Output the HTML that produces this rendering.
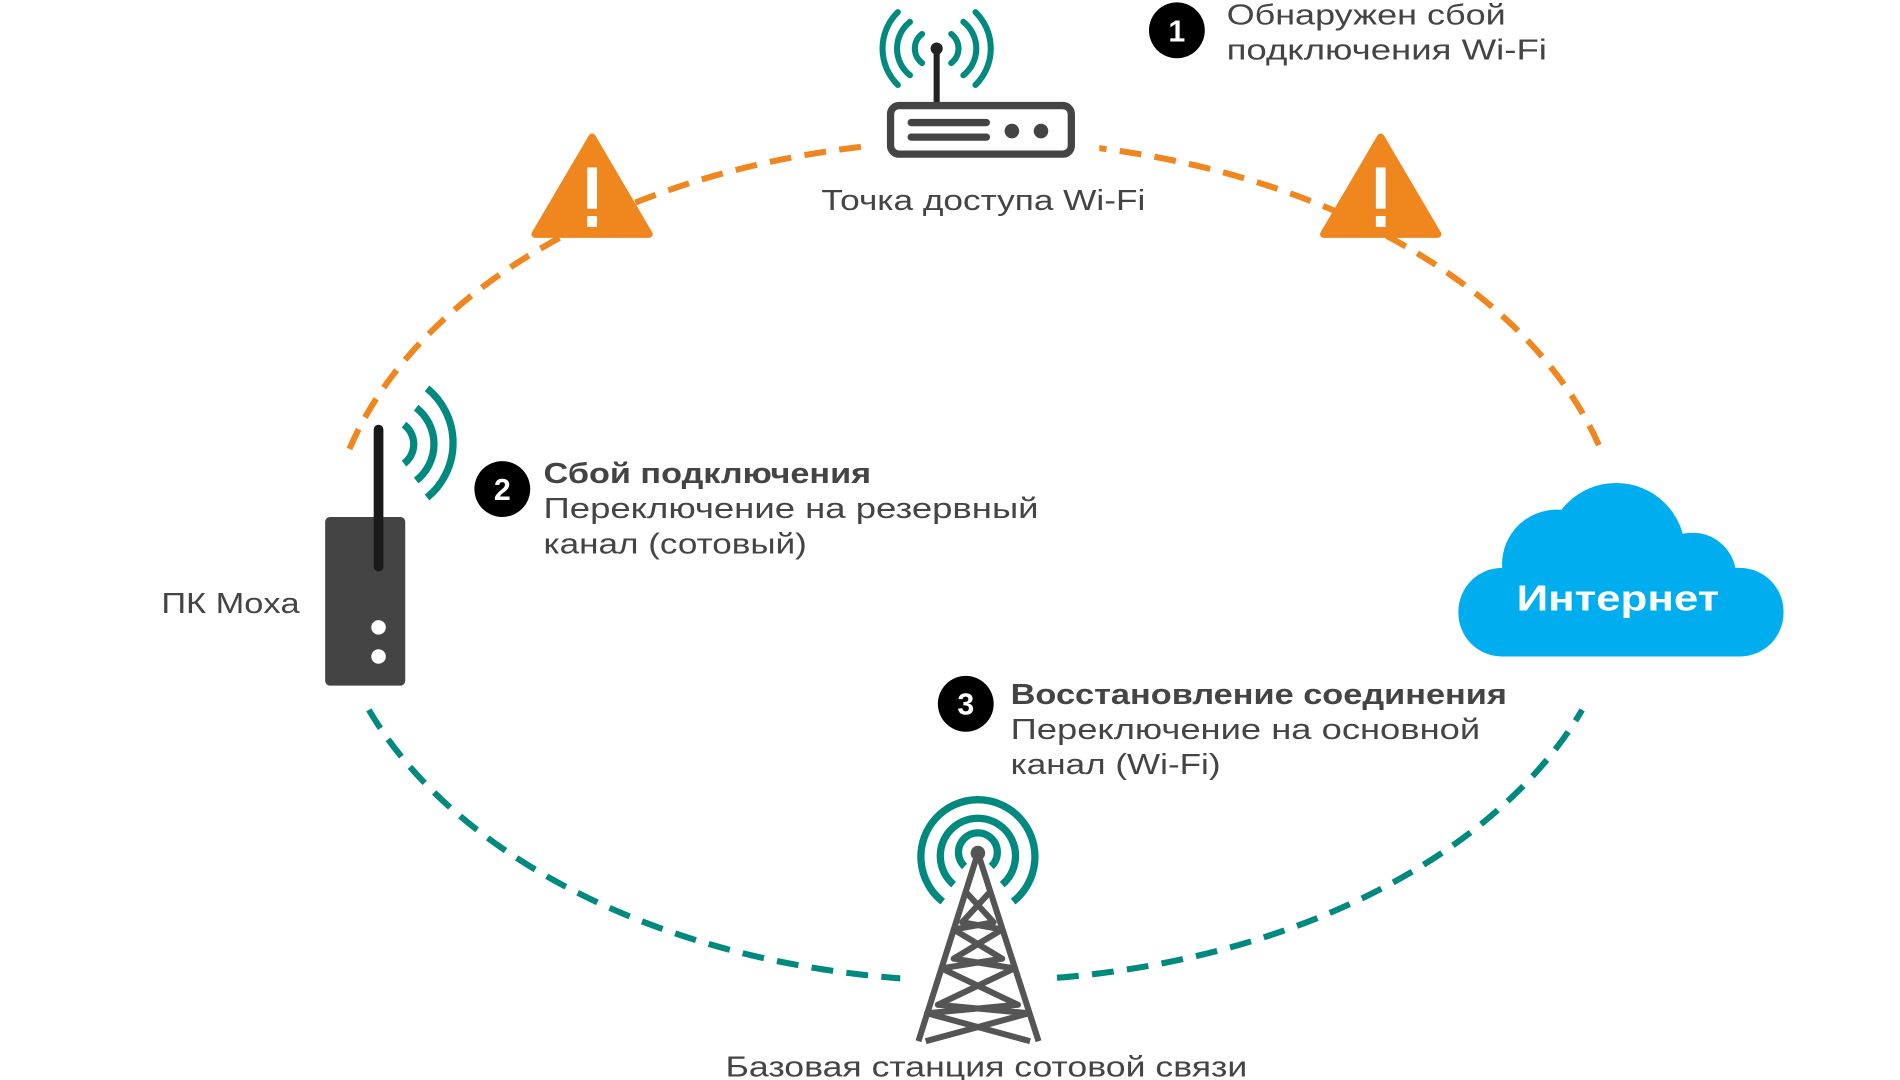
<!DOCTYPE html>
<html><head><meta charset="utf-8"><style>
html,body{margin:0;padding:0;background:#fff;width:1900px;height:1080px;overflow:hidden}
svg{display:block}
text{font-family:"Liberation Sans",sans-serif;fill:#444}
</style></head><body>
<svg width="1900" height="1080" viewBox="0 0 1566 890" preserveAspectRatio="none">
<path d="M288 370 A535 347 0 0 1 1320 372" fill="none" stroke="#F0861E" stroke-width="5" stroke-dasharray="18 11"/>
<path d="M304 585 A535 347 0 0 0 1304 585" fill="none" stroke="#00897F" stroke-width="5" stroke-dasharray="18 11"/>
<rect x="712" y="95" width="194" height="45" fill="#fff"/>
<rect x="742" y="785" width="124" height="50" fill="#fff"/>
<rect x="275" y="372" width="30" height="50" fill="#fff"/>

<g fill="none" stroke="#00897F" stroke-width="5" stroke-linecap="round">
<path d="M760 28 A15 15 0 0 0 760 52"/><path d="M784 28 A15 15 0 0 1 784 52"/>
<path d="M750 18 A28 28 0 0 0 750 62"/><path d="M794 18 A28 28 0 0 1 794 62"/>
<path d="M740 10 A42 42 0 0 0 740 70"/><path d="M804 10 A42 42 0 0 1 804 70"/>
</g>
<line x1="772" y1="40" x2="772" y2="88" stroke="#222" stroke-width="5"/>
<circle cx="772" cy="40" r="5" fill="#222"/>
<rect x="734" y="87" width="149" height="40" rx="7" fill="#fff" stroke="#444" stroke-width="6"/>
<rect x="748" y="98" width="68" height="6" rx="3" fill="#444"/>
<rect x="748" y="110" width="68" height="6" rx="3" fill="#444"/>
<circle cx="834" cy="108" r="6" fill="#444"/><circle cx="858" cy="108" r="6" fill="#444"/>
<text x="677" y="173" font-size="24" textLength="267" lengthAdjust="spacingAndGlyphs">Точка доступа Wi-Fi</text>

<g fill="#F0861E" stroke="#F0861E" stroke-width="6" stroke-linejoin="round">
<polygon points="488,113 441,193 535,193"/>
<polygon points="1138,113 1091,193 1185,193"/>
</g>
<g fill="#fff"><rect x="484" y="138" width="8" height="34"/><rect x="484" y="178" width="8" height="9"/>
<rect x="1134" y="138" width="8" height="34"/><rect x="1134" y="178" width="8" height="9"/></g>

<circle cx="970" cy="25" r="23" fill="#000"/>
<text x="970" y="34" font-size="25" font-weight="bold" text-anchor="middle" style="fill:#fff">1</text>
<text x="1011" y="20" font-size="24" textLength="230" lengthAdjust="spacingAndGlyphs">Обнаружен сбой</text>
<text x="1011" y="49" font-size="24" textLength="264" lengthAdjust="spacingAndGlyphs">подключения Wi-Fi</text>

<g fill="none" stroke="#00897F" stroke-width="6" stroke-linecap="butt">
<path d="M333 350 A20 20 0 0 1 333 382"/>
<path d="M343 336 A38 38 0 0 1 343 396"/>
<path d="M352 320 A58 58 0 0 1 352 410"/>
</g>
<rect x="268" y="426" width="66" height="139" rx="4" fill="#444"/>
<line x1="312" y1="354" x2="312" y2="467" stroke="#1a1a1a" stroke-width="8" stroke-linecap="round"/>
<circle cx="312" cy="517" r="6" fill="#fff"/><circle cx="312" cy="541" r="6" fill="#fff"/>
<text x="133" y="505" font-size="24" textLength="114" lengthAdjust="spacingAndGlyphs">ПК Moxa</text>

<circle cx="414" cy="403" r="23" fill="#000"/>
<text x="414" y="412" font-size="25" font-weight="bold" text-anchor="middle" style="fill:#fff">2</text>
<text x="448" y="398" font-size="24" font-weight="bold" textLength="270" lengthAdjust="spacingAndGlyphs">Сбой подключения</text>
<text x="448" y="427" font-size="24" textLength="408" lengthAdjust="spacingAndGlyphs">Переключение на резервный</text>
<text x="448" y="456" font-size="24" textLength="217" lengthAdjust="spacingAndGlyphs">канал (сотовый)</text>

<g fill="#00AEEF">
<circle cx="1332" cy="455" r="57"/>
<circle cx="1283" cy="465" r="45"/>
<circle cx="1395" cy="475" r="36"/>
<rect x="1202" y="468" width="268" height="73" rx="36"/>
</g>
<text x="1250" y="503" font-size="30" font-weight="bold" style="fill:#fff" textLength="167" lengthAdjust="spacingAndGlyphs">Интернет</text>

<circle cx="796" cy="580" r="23" fill="#000"/>
<text x="796" y="589" font-size="25" font-weight="bold" text-anchor="middle" style="fill:#fff">3</text>
<text x="833" y="580" font-size="24" font-weight="bold" textLength="409" lengthAdjust="spacingAndGlyphs">Восстановление соединения</text>
<text x="833" y="609" font-size="24" textLength="387" lengthAdjust="spacingAndGlyphs">Переключение на основной</text>
<text x="833" y="638" font-size="24" textLength="173" lengthAdjust="spacingAndGlyphs">канал (Wi-Fi)</text>

<g fill="none" stroke="#00897F" stroke-width="6">
<path d="M795 714 A16 16 0 1 1 817 714"/>
<path d="M786 729 A31 31 0 1 1 826 729"/>
<path d="M777 743 A47 47 0 1 1 835 743"/>
</g>
<g fill="none" stroke="#555" stroke-width="5" stroke-linejoin="round">
<polyline points="757,858 806,703 856,858"/>
<polyline points="796,735 819,760 786,766 826,790 776,798 839,828 764,835 849,858"/>
<polyline points="816,735 793,760 826,766 786,790 836,798 773,828 848,835 763,858"/>
</g>
<circle cx="806" cy="703" r="6" fill="#555"/>
<text x="598" y="887" font-size="24" textLength="430" lengthAdjust="spacingAndGlyphs">Базовая станция сотовой связи</text>
</svg>
</body></html>
